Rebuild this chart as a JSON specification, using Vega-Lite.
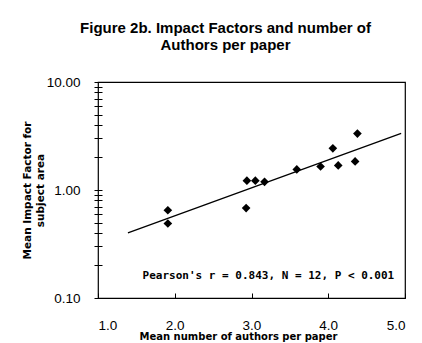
{
  "$schema": "https://vega.github.io/schema/vega-lite/v6.json",
  "width": 307,
  "height": 216,
  "autosize": {"type": "none"},
  "padding": {"left": 98, "top": 82, "right": 17, "bottom": 45},
  "background": "white",
  "title": {
    "text": ["Figure 2b. Impact Factors and number of", "Authors per paper"],
    "font": "Liberation Sans",
    "fontSize": 15,
    "fontWeight": "bold",
    "lineHeight": 17,
    "color": "black",
    "anchor": "middle",
    "frame": "group",
    "dx": -26,
    "offset": 22
  },
  "config": {
    "view": {"stroke": "black", "strokeWidth": 1.2},
    "axis": {
      "labelFont": "Liberation Sans",
      "titleFont": "DejaVu Sans",
      "labelColor": "black",
      "titleColor": "black",
      "tickColor": "black",
      "domainColor": "black",
      "grid": false
    }
  },
  "datasets": {
    "points": [
      {"authors": 1.91, "impact": 0.65},
      {"authors": 1.91, "impact": 0.49},
      {"authors": 2.93, "impact": 0.68},
      {"authors": 2.94, "impact": 1.22},
      {"authors": 3.05, "impact": 1.22},
      {"authors": 3.17, "impact": 1.19},
      {"authors": 3.59, "impact": 1.55},
      {"authors": 3.9, "impact": 1.65},
      {"authors": 4.06, "impact": 2.43},
      {"authors": 4.13, "impact": 1.69},
      {"authors": 4.35, "impact": 1.84},
      {"authors": 4.38, "impact": 3.33}
    ],
    "trend": [
      {"authors": 1.39, "impact": 0.4},
      {"authors": 4.95, "impact": 3.35}
    ],
    "note": [
      {"authors": 4.86, "impact": 0.15, "label": "Pearson's r  = 0.843,  N = 12,  P  < 0.001"}
    ]
  },
  "layer": [
    {
      "data": {"name": "trend"},
      "mark": {"type": "line", "color": "black", "strokeWidth": 1.3},
      "encoding": {
        "x": {
          "field": "authors",
          "type": "quantitative",
          "scale": {"domain": [1, 5], "nice": false, "zero": false},
          "axis": {
            "values": [1, 2, 3, 4, 5],
            "format": ".1f",
            "tickSize": -5,
            "domain": false,
            "labelFontSize": 13.5,
            "labelPadding": 25,
            "title": "Mean number of authors per paper",
            "titleFontSize": 10,
            "titleFontWeight": "bold",
            "titleX": 140,
            "titlePadding": 0
          }
        },
        "y": {
          "field": "impact",
          "type": "quantitative",
          "scale": {"type": "log", "domain": [0.1, 10], "nice": false},
          "axis": {
            "values": [0.1, 0.2, 0.3, 0.4, 0.5, 0.6, 0.7, 0.8, 0.9, 1, 2, 3, 4, 5, 6, 7, 8, 9, 10],
            "labelExpr": "(datum.value == 0.1 || datum.value == 1 || datum.value == 10) ? format(datum.value, '.2f') : ''",
            "tickSize": 8,
            "offset": -4,
            "domain": false,
            "labelFontSize": 13.5,
            "labelPadding": 14,
            "title": ["Mean Impact Factor for", "subject area"],
            "titleFontSize": 10.5,
            "titleFontWeight": "bold",
            "titleLineHeight": 13,
            "titlePadding": 1
          }
        }
      }
    },
    {
      "data": {"name": "points"},
      "mark": {"type": "point", "shape": "diamond", "filled": true, "color": "black", "size": 75, "opacity": 1},
      "encoding": {
        "x": {"field": "authors", "type": "quantitative"},
        "y": {"field": "impact", "type": "quantitative"}
      }
    },
    {
      "data": {"name": "note"},
      "mark": {"type": "text", "align": "right", "baseline": "alphabetic", "font": "DejaVu Sans Mono", "fontWeight": "bold", "fontSize": 11, "color": "black"},
      "encoding": {
        "x": {"field": "authors", "type": "quantitative"},
        "y": {"field": "impact", "type": "quantitative"},
        "text": {"field": "label"}
      }
    }
  ]
}
